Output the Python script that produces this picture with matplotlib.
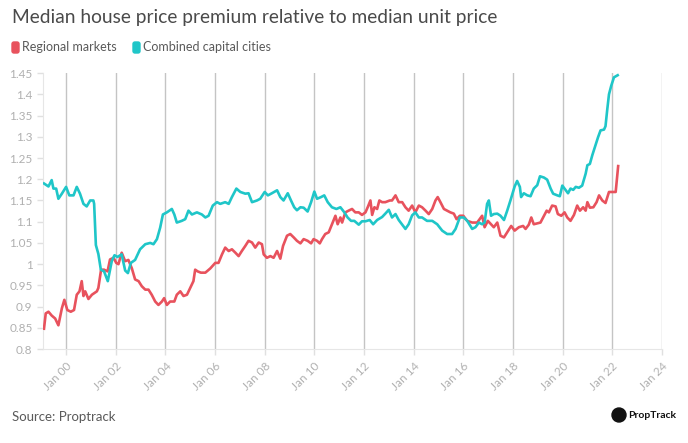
import matplotlib
matplotlib.use("Agg")
import matplotlib.pyplot as plt
from matplotlib.patches import FancyBboxPatch, Circle
from matplotlib.transforms import IdentityTransform

plt.rcParams['font.family'] = ['Lato', 'DejaVu Sans']

# dates as decimal years
cap_t = [1999.11, 1999.29, 1999.42, 1999.49, 1999.60, 1999.69, 1999.83, 2000.00, 2000.13, 2000.30,
         2000.43, 2000.56, 2000.70, 2000.83, 2000.97, 2001.10, 2001.13, 2001.20, 2001.30, 2001.40,
         2001.53, 2001.68, 2001.84, 2001.95, 2002.07, 2002.24, 2002.38, 2002.49, 2002.61, 2002.78,
         2002.98, 2003.19, 2003.39, 2003.52, 2003.66, 2003.79, 2003.90, 2004.06, 2004.26, 2004.36,
         2004.46, 2004.66, 2004.80, 2004.93, 2005.07, 2005.27, 2005.47, 2005.61, 2005.74, 2005.91,
         2006.08, 2006.21, 2006.41, 2006.55, 2006.68, 2006.86, 2007.02, 2007.22, 2007.35, 2007.49,
         2007.69, 2007.82, 2008.00, 2008.13, 2008.29, 2008.50, 2008.63, 2008.76, 2008.93, 2009.06,
         2009.19, 2009.30, 2009.44, 2009.57, 2009.73, 2009.87, 2010.00, 2010.11, 2010.27, 2010.40,
         2010.54, 2010.71, 2010.89, 2011.05, 2011.21, 2011.34, 2011.48, 2011.61, 2011.79, 2011.92,
         2012.06, 2012.23, 2012.37, 2012.53, 2012.73, 2012.86, 2013.00, 2013.13, 2013.27, 2013.40,
         2013.54, 2013.67, 2013.80, 2013.94, 2014.07, 2014.21, 2014.34, 2014.54, 2014.75, 2014.95,
         2015.15, 2015.35, 2015.55, 2015.69, 2015.86, 2016.02, 2016.16, 2016.36, 2016.49, 2016.63,
         2016.76, 2016.86, 2016.96, 2017.03, 2017.12, 2017.23, 2017.37, 2017.50, 2017.64, 2017.77,
         2017.90, 2018.07, 2018.17, 2018.28, 2018.33, 2018.44, 2018.58, 2018.71, 2018.84, 2018.98,
         2019.09, 2019.25, 2019.38, 2019.52, 2019.62, 2019.79, 2019.89, 2019.99, 2020.08, 2020.22,
         2020.32, 2020.43, 2020.53, 2020.66, 2020.79, 2020.93, 2021.00, 2021.10, 2021.20, 2021.33,
         2021.43, 2021.53, 2021.67, 2021.73, 2021.80, 2021.87, 2021.96, 2022.07, 2022.22]
cap_v = [1.190, 1.183, 1.198, 1.178, 1.178, 1.154, 1.166, 1.182, 1.162, 1.162,
         1.182, 1.166, 1.142, 1.136, 1.150, 1.150, 1.142, 1.045, 1.024, 0.987,
         0.983, 0.960, 1.007, 1.021, 1.017, 1.023, 0.985, 0.979, 1.003, 1.010,
         1.035, 1.047, 1.050, 1.047, 1.059, 1.086, 1.117, 1.122, 1.130, 1.117,
         1.098, 1.102, 1.106, 1.126, 1.117, 1.122, 1.117, 1.110, 1.114, 1.138,
         1.146, 1.142, 1.146, 1.142, 1.158, 1.178, 1.170, 1.166, 1.167, 1.146,
         1.150, 1.154, 1.170, 1.162, 1.167, 1.174, 1.158, 1.150, 1.167, 1.150,
         1.134, 1.127, 1.134, 1.133, 1.124, 1.146, 1.171, 1.154, 1.158, 1.162,
         1.146, 1.134, 1.130, 1.134, 1.122, 1.110, 1.102, 1.102, 1.093, 1.101,
         1.101, 1.104, 1.094, 1.104, 1.111, 1.119, 1.128, 1.110, 1.118, 1.104,
         1.093, 1.083, 1.094, 1.115, 1.122, 1.110, 1.110, 1.102, 1.102, 1.094,
         1.079, 1.071, 1.071, 1.083, 1.110, 1.110, 1.102, 1.083, 1.087, 1.098,
         1.094, 1.098, 1.142, 1.150, 1.114, 1.118, 1.119, 1.114, 1.104, 1.126,
         1.150, 1.183, 1.196, 1.182, 1.158, 1.167, 1.162, 1.160, 1.178, 1.186,
         1.207, 1.204, 1.199, 1.178, 1.166, 1.162, 1.160, 1.185, 1.178, 1.167,
         1.178, 1.175, 1.182, 1.180, 1.185, 1.213, 1.233, 1.236, 1.257, 1.281,
         1.299, 1.315, 1.317, 1.325, 1.364, 1.400, 1.420, 1.440, 1.445]

reg_t = [1999.11, 1999.18, 1999.29, 1999.42, 1999.56, 1999.69, 1999.83, 1999.93, 2000.05, 2000.19,
         2000.32, 2000.43, 2000.54, 2000.63, 2000.70, 2000.77, 2000.90, 2001.04, 2001.24, 2001.30,
         2001.41, 2001.53, 2001.67, 2001.77, 2001.91, 2002.02, 2002.11, 2002.24, 2002.38, 2002.51,
         2002.65, 2002.78, 2002.92, 2003.05, 2003.19, 2003.32, 2003.45, 2003.59, 2003.72, 2003.86,
         2003.95, 2004.06, 2004.19, 2004.36, 2004.46, 2004.60, 2004.73, 2004.87, 2005.00, 2005.13,
         2005.20, 2005.30, 2005.43, 2005.61, 2005.81, 2006.01, 2006.14, 2006.28, 2006.41, 2006.55,
         2006.68, 2006.82, 2006.95, 2007.08, 2007.22, 2007.35, 2007.49, 2007.62, 2007.76, 2007.89,
         2007.96, 2008.09, 2008.23, 2008.36, 2008.50, 2008.63, 2008.74, 2008.90, 2009.03, 2009.17,
         2009.30, 2009.44, 2009.57, 2009.73, 2009.87, 2009.97, 2010.11, 2010.22, 2010.31, 2010.44,
         2010.58, 2010.71, 2010.85, 2010.94, 2011.05, 2011.12, 2011.25, 2011.38, 2011.52, 2011.65,
         2011.79, 2011.92, 2012.06, 2012.15, 2012.26, 2012.33, 2012.42, 2012.53, 2012.62, 2012.73,
         2012.86, 2013.04, 2013.13, 2013.27, 2013.40, 2013.54, 2013.67, 2013.80, 2013.94, 2014.07,
         2014.21, 2014.34, 2014.48, 2014.61, 2014.75, 2014.88, 2014.97, 2015.08, 2015.22, 2015.35,
         2015.48, 2015.62, 2015.73, 2015.86, 2016.00, 2016.16, 2016.36, 2016.56, 2016.76, 2016.86,
         2016.99, 2017.12, 2017.23, 2017.37, 2017.50, 2017.64, 2017.77, 2017.93, 2018.07, 2018.24,
         2018.41, 2018.51, 2018.64, 2018.74, 2018.84, 2018.98, 2019.11, 2019.25, 2019.36, 2019.45,
         2019.58, 2019.72, 2019.81, 2019.95, 2020.08, 2020.19, 2020.32, 2020.46, 2020.59, 2020.70,
         2020.83, 2020.93, 2021.00, 2021.10, 2021.24, 2021.37, 2021.47, 2021.60, 2021.73, 2021.87,
         2022.00, 2022.14, 2022.24]
reg_v = [0.848, 0.884, 0.888, 0.879, 0.872, 0.856, 0.896, 0.916, 0.892, 0.888,
         0.892, 0.928, 0.936, 0.960, 0.925, 0.936, 0.918, 0.928, 0.936, 0.944,
         0.987, 0.987, 0.983, 1.011, 1.015, 1.003, 1.000, 1.027, 1.007, 1.010,
         0.990, 0.964, 0.960, 0.948, 0.940, 0.940, 0.928, 0.912, 0.904, 0.912,
         0.920, 0.904, 0.912, 0.912, 0.928, 0.936, 0.925, 0.928, 0.944, 0.960,
         0.987, 0.983, 0.980, 0.980, 0.990, 1.003, 1.003, 1.023, 1.039, 1.031,
         1.035, 1.027, 1.019, 1.031, 1.043, 1.055, 1.051, 1.039, 1.051, 1.047,
         1.023, 1.015, 1.019, 1.015, 1.031, 1.013, 1.043, 1.067, 1.071, 1.063,
         1.055, 1.049, 1.059, 1.055, 1.049, 1.059, 1.055, 1.049, 1.059, 1.071,
         1.075, 1.094, 1.114, 1.094, 1.110, 1.098, 1.122, 1.126, 1.130, 1.122,
         1.122, 1.116, 1.122, 1.134, 1.150, 1.116, 1.134, 1.130, 1.150, 1.146,
         1.146, 1.150, 1.150, 1.162, 1.146, 1.146, 1.134, 1.126, 1.138, 1.122,
         1.138, 1.134, 1.126, 1.118, 1.130, 1.150, 1.158, 1.146, 1.130, 1.126,
         1.122, 1.119, 1.106, 1.114, 1.114, 1.102, 1.098, 1.098, 1.114, 1.087,
         1.102, 1.094, 1.087, 1.098, 1.067, 1.063, 1.075, 1.090, 1.079, 1.087,
         1.090, 1.083, 1.093, 1.110, 1.094, 1.096, 1.098, 1.114, 1.126, 1.122,
         1.138, 1.136, 1.118, 1.114, 1.122, 1.110, 1.102, 1.116, 1.138, 1.126,
         1.134, 1.126, 1.146, 1.133, 1.134, 1.146, 1.162, 1.150, 1.144, 1.170,
         1.170, 1.170, 1.231]

years = list(range(2000, 2025, 2))
year_labels = ['Jan %02d' % (y % 100) for y in years]
y_ticks = [0.8, 0.85, 0.9, 0.95, 1.0, 1.05, 1.1, 1.15, 1.2, 1.25, 1.3, 1.35, 1.4, 1.45]
y_labels = ['0.8', '0.85', '0.9', '0.95', '1', '1.05', '1.1', '1.15', '1.2', '1.25', '1.3', '1.35', '1.4', '1.45']

red = '#E8525D'
cyan = '#1FC6C8'
grey = '#b0b0b0'
W, H = 688, 443

fig = plt.figure(figsize=(6.88, 4.43), dpi=100)
ax = fig.add_axes([0.0625, 0.212, 0.8995, 0.623])

for y in years:
    ax.axvline(y, color='#c4c4c4', lw=1.0, zorder=1)
ax.plot(reg_t, reg_v, color=red, lw=1.9, zorder=3, solid_joinstyle='round')
ax.plot(cap_t, cap_v, color=cyan, lw=1.9, zorder=3, solid_joinstyle='round')

ax.set_xlim(1999.07, 2024.0)
ax.set_ylim(0.8, 1.45)
ax.set_xticks(years)
ax.set_xticklabels(year_labels, rotation=45, ha='right', rotation_mode='anchor')
ax.set_yticks(y_ticks)
ax.set_yticklabels(y_labels)
ax.tick_params(axis='both', colors='#e0e0e0', labelcolor=grey, labelsize=8.5, length=4, width=1)
ax.tick_params(axis='x', pad=4)
for s in ['top', 'right']:
    ax.spines[s].set_visible(False)
for s in ['left', 'bottom']:
    ax.spines[s].set_color('#e6e6e6')

fig.text(12 / W, 1 - 18 / H, 'Median house price premium relative to median unit price',
         fontsize=13.8, color='#4a4a4a', va='center', ha='left')

# legend, drawn in pixel coords so the swatches stay square-ish
def swatch(x0, color):
    fig.add_artist(FancyBboxPatch((x0, H - 53), 7, 11, boxstyle='round,pad=0,rounding_size=2',
                                  transform=IdentityTransform(), color=color))

swatch(12, red)
fig.text(22 / W, 1 - 47 / H, 'Regional markets', fontsize=9, color='#5a5a5a', va='center')
swatch(133, cyan)
fig.text(143 / W, 1 - 47 / H, 'Combined capital cities', fontsize=9, color='#5a5a5a', va='center')

fig.text(12 / W, 1 - 417 / H, 'Source: Proptrack', fontsize=9.5, color='#5a5a5a', va='center')
fig.add_artist(Circle((619, H - 415), 7, transform=IdentityTransform(), color='#111111'))
fig.text(628 / W, 1 - 415 / H, 'PropTrack', fontsize=7.5, color='#111111', fontweight='bold',
         va='center')

fig.savefig('out.png', dpi=100)
